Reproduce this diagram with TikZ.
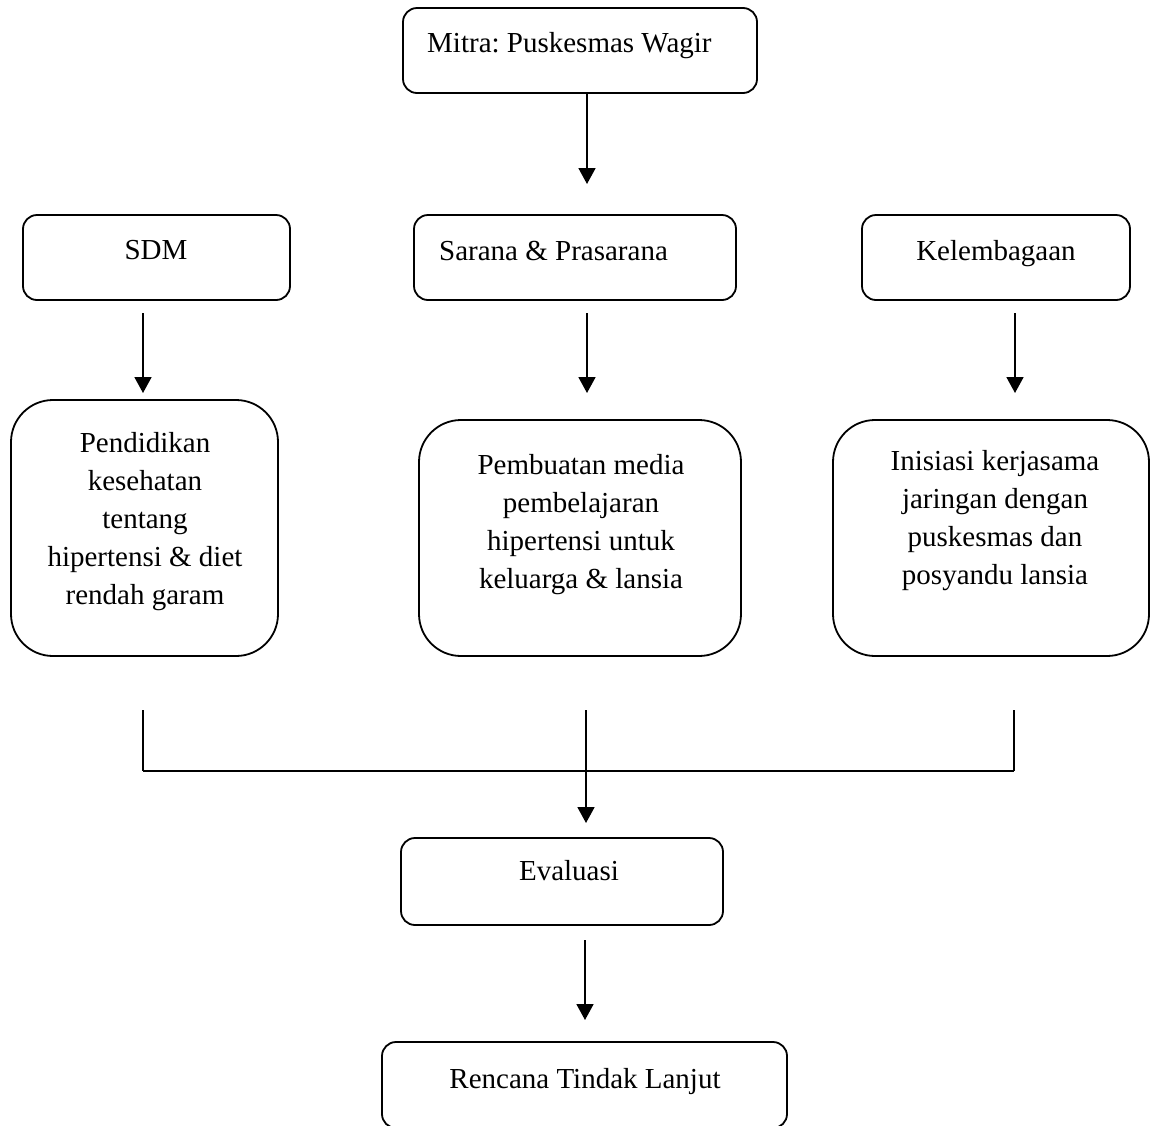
\documentclass[tikz,border=0pt]{standalone}
\usepackage{fontspec}
\setmainfont{Liberation Serif}
\usetikzlibrary{arrows.meta}
\frenchspacing
\begin{document}
\begin{tikzpicture}[x=1pt,y=-1pt,
  box/.style={draw, line width=1.8pt, rounded corners=14pt, inner sep=0pt},
  bigbox/.style={draw, line width=1.8pt, rounded corners=42pt, inner sep=0pt},
  txt/.style={inner sep=0pt, font=\fontsize{29}{38}\selectfont},
  mtxt/.style={inner sep=0pt, align=center, anchor=north, font=\fontsize{29}{38}\selectfont},
  arr/.style={line width=1.8pt, -{Triangle[width=17pt,length=16pt]}},
  ln/.style={line width=1.8pt}]
\useasboundingbox (0,0) rectangle (1151,1125);
\clip (0,0) rectangle (1151,1125);
\fill[white] (0,0) rectangle (1151,1125);
% boxes
\node[box, minimum width=354pt, minimum height=85pt] (mitra) at (580,50.5) {};
\node[box, minimum width=267pt, minimum height=85pt] (sdm) at (156.5,257.5) {};
\node[box, minimum width=322pt, minimum height=85pt] (sarana) at (575,257.5) {};
\node[box, minimum width=268pt, minimum height=85pt] (kelem) at (996,257.5) {};
\node[bigbox, minimum width=267pt, minimum height=256pt] (pend) at (144.5,528) {};
\node[bigbox, minimum width=322pt, minimum height=236pt] (pemb) at (580,538) {};
\node[bigbox, minimum width=316pt, minimum height=236pt] (inis) at (991,538) {};
\node[box, minimum width=322pt, minimum height=87pt] (eval) at (562,881.5) {};
\node[box, minimum width=405pt, minimum height=86pt] (renc) at (584.5,1085) {};
% texts
\node[txt, anchor=base west] (tmitra) at (427,52) {Mitra: Puskesmas Wagir};
\node[txt, anchor=base] (tsdm) at (156,259) {SDM};
\node[txt, anchor=base west] (tsarana) at (439,260) {Sarana \& Prasarana};
\node[txt, anchor=base] (tkelem) at (996,260) {Kelembagaan};
\node[mtxt] (tpend) at (145,432) {Pendidikan\\kesehatan\\tentang\\hipertensi \& diet\\rendah garam};
\node[mtxt] (tpemb) at (581,454) {Pembuatan media\\pembelajaran\\hipertensi untuk\\keluarga \& lansia};
\node[mtxt] (tinis) at (995,450) {Inisiasi kerjasama\\jaringan dengan\\puskesmas dan\\posyandu lansia};
\node[txt, anchor=base] (teval) at (569,880) {Evaluasi};
\node[txt, anchor=base] (trenc) at (585,1088) {Rencana Tindak Lanjut};
% coordinates
\coordinate (a1s) at (587,93);
\coordinate (a1e) at (587,184);
\coordinate (l1s) at (143,313);
\coordinate (l1e) at (143,393);
\coordinate (m1s) at (587,313);
\coordinate (m1e) at (587,393);
\coordinate (r1s) at (1015,313);
\coordinate (r1e) at (1015,393);
\coordinate (l2s) at (143,710);
\coordinate (l2e) at (143,771);
\coordinate (m2s) at (586,710);
\coordinate (m2e) at (586,823);
\coordinate (r2s) at (1014,710);
\coordinate (r2e) at (1014,771);
\coordinate (e1s) at (585,940);
\coordinate (e1e) at (585,1020);
% connectors
\draw[arr] (a1s) -- (a1e);
\draw[arr] (l1s) -- (l1e);
\draw[arr] (m1s) -- (m1e);
\draw[arr] (r1s) -- (r1e);
\draw[ln] (l2s) -- (l2e);
\draw[ln] (r2s) -- (r2e);
\draw[ln] (l2e) -- (r2e);
\draw[arr] (m2s) -- (m2e);
\draw[arr] (e1s) -- (e1e);
\end{tikzpicture}
\end{document}
